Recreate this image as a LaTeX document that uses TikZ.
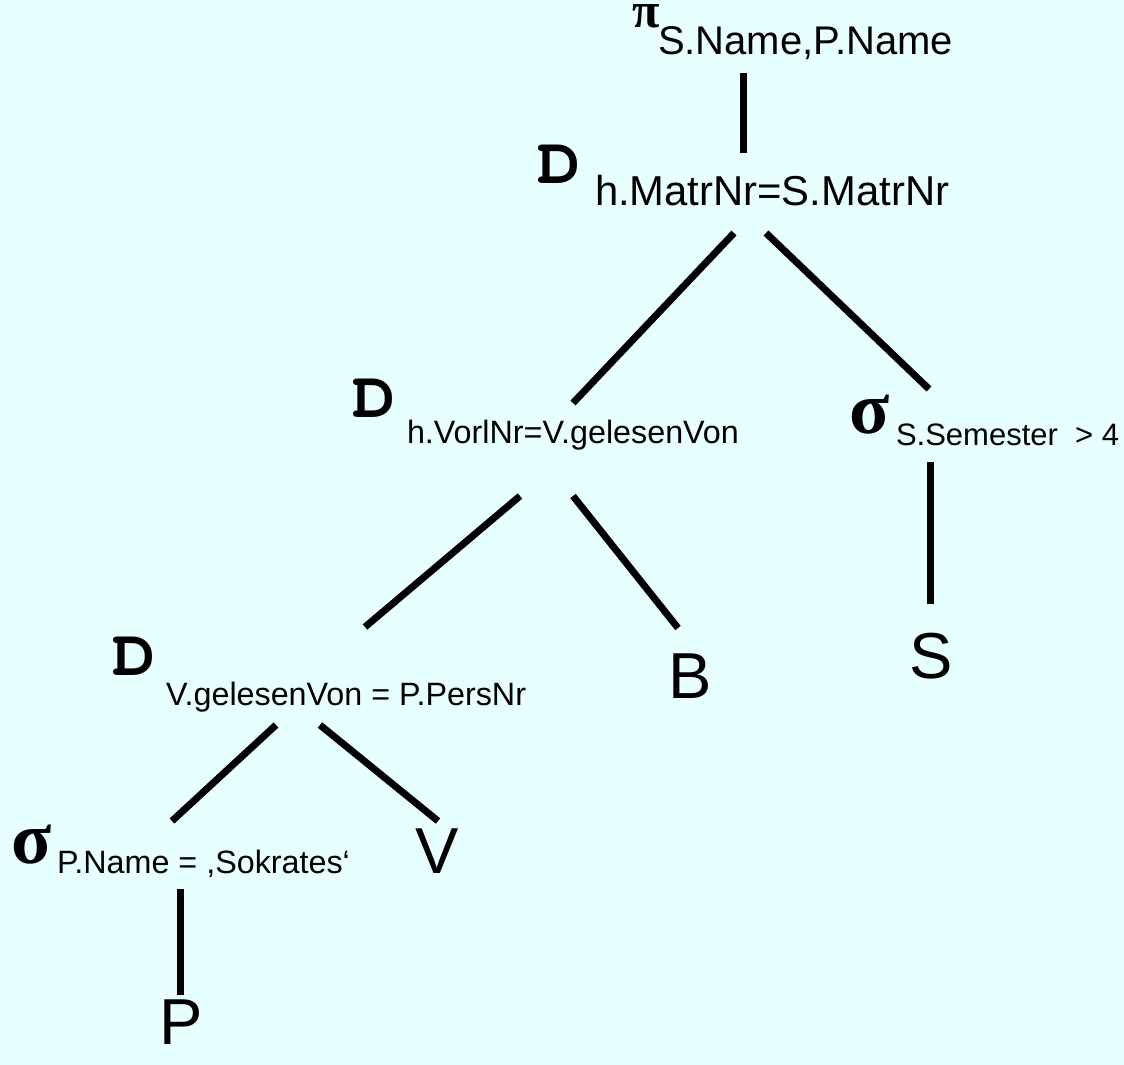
\documentclass[tikz,border=0pt]{standalone}
\usepackage{fontspec}
\setmainfont{Liberation Sans}
\newfontfamily\greekf{Liberation Serif}
\newfontfamily\joinf{texgyrecursor-bold.otf}
\definecolor{bgcol}{RGB}{232,255,255}
\newcommand{\fs}[1]{\fontsize{#1pt}{#1pt}\selectfont}
\newcommand{\joinsym}{\joinf\fs{66}\scalebox{1.1}[1]{D}}
\tikzset{
  lbl/.style={anchor=base west, inner sep=0pt, outer sep=0pt, font=\fs{32.3}},
  sym/.style={anchor=base west, inner sep=0pt, outer sep=0pt},
  rel/.style={anchor=base west, inner sep=0pt, outer sep=0pt, font=\fs{65}},
  edge/.style={line width=7pt, black}
}
\begin{document}
\begin{tikzpicture}[x=1pt,y=-1pt]
\useasboundingbox (0,0) rectangle (1124,1065);
\fill[bgcol] (0,0) rectangle (1124,1065);
% projection
\node[sym, font=\greekf\bfseries\fs{50}] (pisym) at (632,28) {π};
\node[lbl, font=\fs{40}] (pisub) at (658,55) {S.Name,P.Name};
% top join
\node[sym] (j1sym) at (537,183) {\joinsym};
\node[lbl, font=\fs{41.8}] (j1sub) at (595,205) {h.MatrNr=S.MatrNr};
% middle join
\node[sym] (j2sym) at (352,417) {\joinsym};
\node[lbl] (j2sub) at (407,443) {h.VorlNr=V.gelesenVon};
% bottom join
\node[sym] (j3sym) at (112,675) {\joinsym};
\node[lbl] (j3sub) at (166,705) {V.gelesenVon = P.PersNr};
% right selection
\node[sym, font=\greekf\bfseries\fs{74}] (s1sym) at (849,433) {σ};
\node[lbl, font=\fs{31}] (s1sub) at (896,445) {S.Semester~~> 4};
% left selection
\node[sym, font=\greekf\bfseries\fs{74}] (s2sym) at (12,863) {σ};
\node[lbl] (s2sub) at (57,873) {P.Name = ,Sokrates‘};
% relations
\node[rel] (relS) at (909,678) {S};
\node[rel] (relB) at (668,698) {B};
\node[rel] (relV) at (415,873) {V};
\node[rel] (relP) at (159,1044) {P};
% connector end points
\coordinate (a1) at (743.5,73);  \coordinate (a2) at (743.5,153);
\coordinate (b1) at (734,233);   \coordinate (b2) at (573,403);
\coordinate (c1) at (766,233);   \coordinate (c2) at (929,389);
\coordinate (d1) at (930,462);   \coordinate (d2) at (930,604);
\coordinate (e1) at (520,496);   \coordinate (e2) at (365,627);
\coordinate (f1) at (573,496);   \coordinate (f2) at (678,628);
\coordinate (g1) at (276,725);   \coordinate (g2) at (172,821);
\coordinate (h1) at (320,725);   \coordinate (h2) at (438,821);
\coordinate (k1) at (180,889);   \coordinate (k2) at (180,995);
\draw[edge] (a1) -- (a2);
\draw[edge] (b1) -- (b2);
\draw[edge] (c1) -- (c2);
\draw[edge] (d1) -- (d2);
\draw[edge] (e1) -- (e2);
\draw[edge] (f1) -- (f2);
\draw[edge] (g1) -- (g2);
\draw[edge] (h1) -- (h2);
\draw[edge] (k1) -- (k2);
\end{tikzpicture}
\end{document}
